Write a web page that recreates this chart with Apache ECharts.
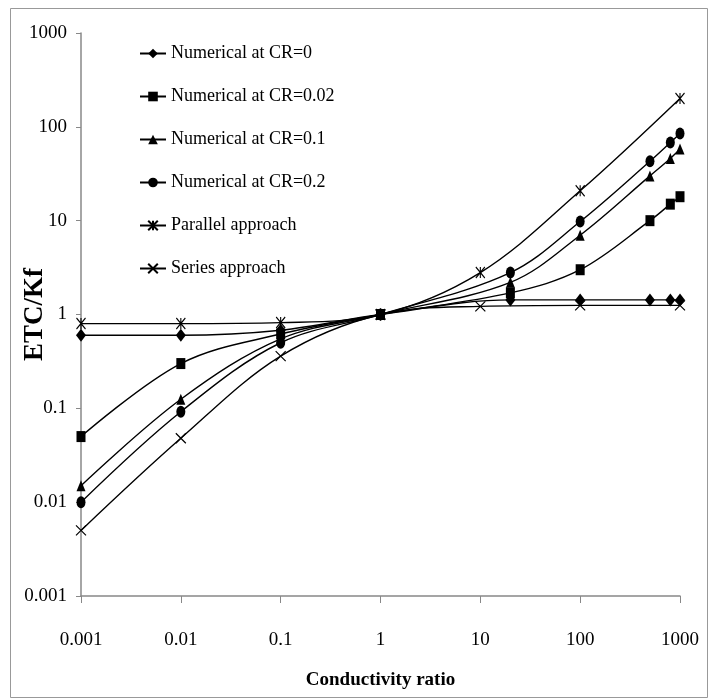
<!DOCTYPE html>
<html>
<head>
<meta charset="utf-8">
<script src="https://cdn.jsdelivr.net/npm/echarts@6/dist/echarts.min.js"></script>
<style>
  html, body { margin: 0; padding: 0; background: #fff; }
  #chart { width: 715px; height: 698px; }
</style>
</head>
<body>
<div id="chart"></div>
<script>
// Conductivity ratio values at which the numerical model was evaluated
const xNumerical = [0.001, 0.01, 0.1, 1, 20, 100, 500, 800, 1000];
const etcCR0    = [0.6, 0.6, 0.68, 1, 1.43, 1.43, 1.43, 1.43, 1.43];
const etcCR002  = [0.05, 0.3, 0.62, 1, 1.7, 3, 10, 15, 18];
const etcCR01   = [0.015, 0.125, 0.55, 1, 2.2, 7, 30, 46, 58];
const etcCR02   = [0.01, 0.092, 0.5, 1, 2.8, 9.8, 43, 68, 85];

// Analytical bounds
const xBounds  = [0.001, 0.01, 0.1, 1, 10, 100, 1000];
const parallel = [0.8, 0.8, 0.82, 1, 2.8, 20.8, 200.8];
const seriesAp = [0.005, 0.048, 0.36, 1, 1.22, 1.25, 1.25];

const xTickLabels = ['0.001', '0.01', '0.1', '1', '10', '100', '1000'];
const yTickLabels = ['0.001', '0.01', '0.1', '1', '10', '100', '1000'];

const FONT = '"Liberation Serif", "Times New Roman", serif';
const INK = '#000';

function pairs(xs, ys) { return xs.map((x, i) => [x, ys[i]]); }

function lineSeries(name, xs, ys, symbol, size, open) {
  return {
    name: name,
    type: 'line',
    data: pairs(xs, ys),
    smooth: 0.35,
    symbol: symbol,
    symbolSize: size,
    showAllSymbol: true,
    lineStyle: { color: INK, width: 1.4 },
    itemStyle: open
      ? { color: 'rgba(0,0,0,0)', borderColor: INK, borderWidth: 1.2 }
      : { color: INK, borderColor: INK, borderWidth: 0 },
    emphasis: { disabled: true },
    z: 3
  };
}

const chart = echarts.init(document.getElementById('chart'));
chart.setOption({
  animation: false,
  backgroundColor: '#fff',
  graphic: [{
    type: 'rect',
    shape: { x: 10.5, y: 8.5, width: 697, height: 689 },
    style: { fill: 'none', stroke: '#999', lineWidth: 1 },
    silent: true
  }],
  grid: {
    left: 81, top: 33, right: 35, bottom: 102,
    containLabel: false,
    outerBoundsMode: 'none'
  },
  legend: {
    left: 134, top: 38,
    orient: 'vertical',
    itemWidth: 26, itemHeight: 12,
    itemGap: 22,
    textStyle: { fontFamily: FONT, fontSize: 18, color: INK, lineHeight: 21 },
    data: ['Numerical at CR=0', 'Numerical at CR=0.02', 'Numerical at CR=0.1',
           'Numerical at CR=0.2', 'Parallel approach', 'Series approach']
  },
  xAxis: {
    type: 'log', logBase: 10, min: 0.001, max: 1000,
    name: 'Conductivity ratio', nameLocation: 'middle', nameGap: 75,
    nameTextStyle: { fontFamily: FONT, fontSize: 19, fontWeight: 'bold', color: INK },
    axisLine: { lineStyle: { color: '#888', width: 1.5 } },
    axisTick: { show: true, length: 7, lineStyle: { color: '#888' } },
    axisLabel: {
      margin: 35, fontFamily: FONT, fontSize: 19, color: INK,
      formatter: (v) => xTickLabels[Math.round(Math.log10(v)) + 3]
    },
    splitLine: { show: false }
  },
  yAxis: {
    type: 'log', logBase: 10, min: 0.001, max: 1000,
    name: 'ETC/Kf', nameLocation: 'middle', nameGap: 32, nameRotate: 90,
    nameMoveOverlap: false,
    nameTextStyle: { fontFamily: FONT, fontSize: 27, fontWeight: 'bold', color: INK },
    axisLine: { show: true, lineStyle: { color: '#888', width: 1.5 } },
    axisTick: { show: true, length: 5, lineStyle: { color: '#888' } },
    axisLabel: {
      margin: 14, fontFamily: FONT, fontSize: 19, color: INK,
      formatter: (v) => yTickLabels[Math.round(Math.log10(v)) + 3]
    },
    splitLine: { show: false }
  },
  series: [
    lineSeries('Numerical at CR=0', xNumerical, etcCR0, 'diamond', [10, 13], false),
    lineSeries('Numerical at CR=0.02', xNumerical, etcCR002, 'rect', [9, 11], false),
    lineSeries('Numerical at CR=0.1', xNumerical, etcCR01, 'triangle', [9, 11], false),
    lineSeries('Numerical at CR=0.2', xNumerical, etcCR02, 'circle', [9, 12], false),
    lineSeries('Parallel approach', xBounds, parallel,
      'path://M0,0L10,12M10,0L0,12M5,0L5,12', [9, 11], true),
    lineSeries('Series approach', xBounds, seriesAp,
      'path://M0,0L10,10M10,0L0,10', [10, 10], true)
  ]
});
</script>
</body>
</html>
